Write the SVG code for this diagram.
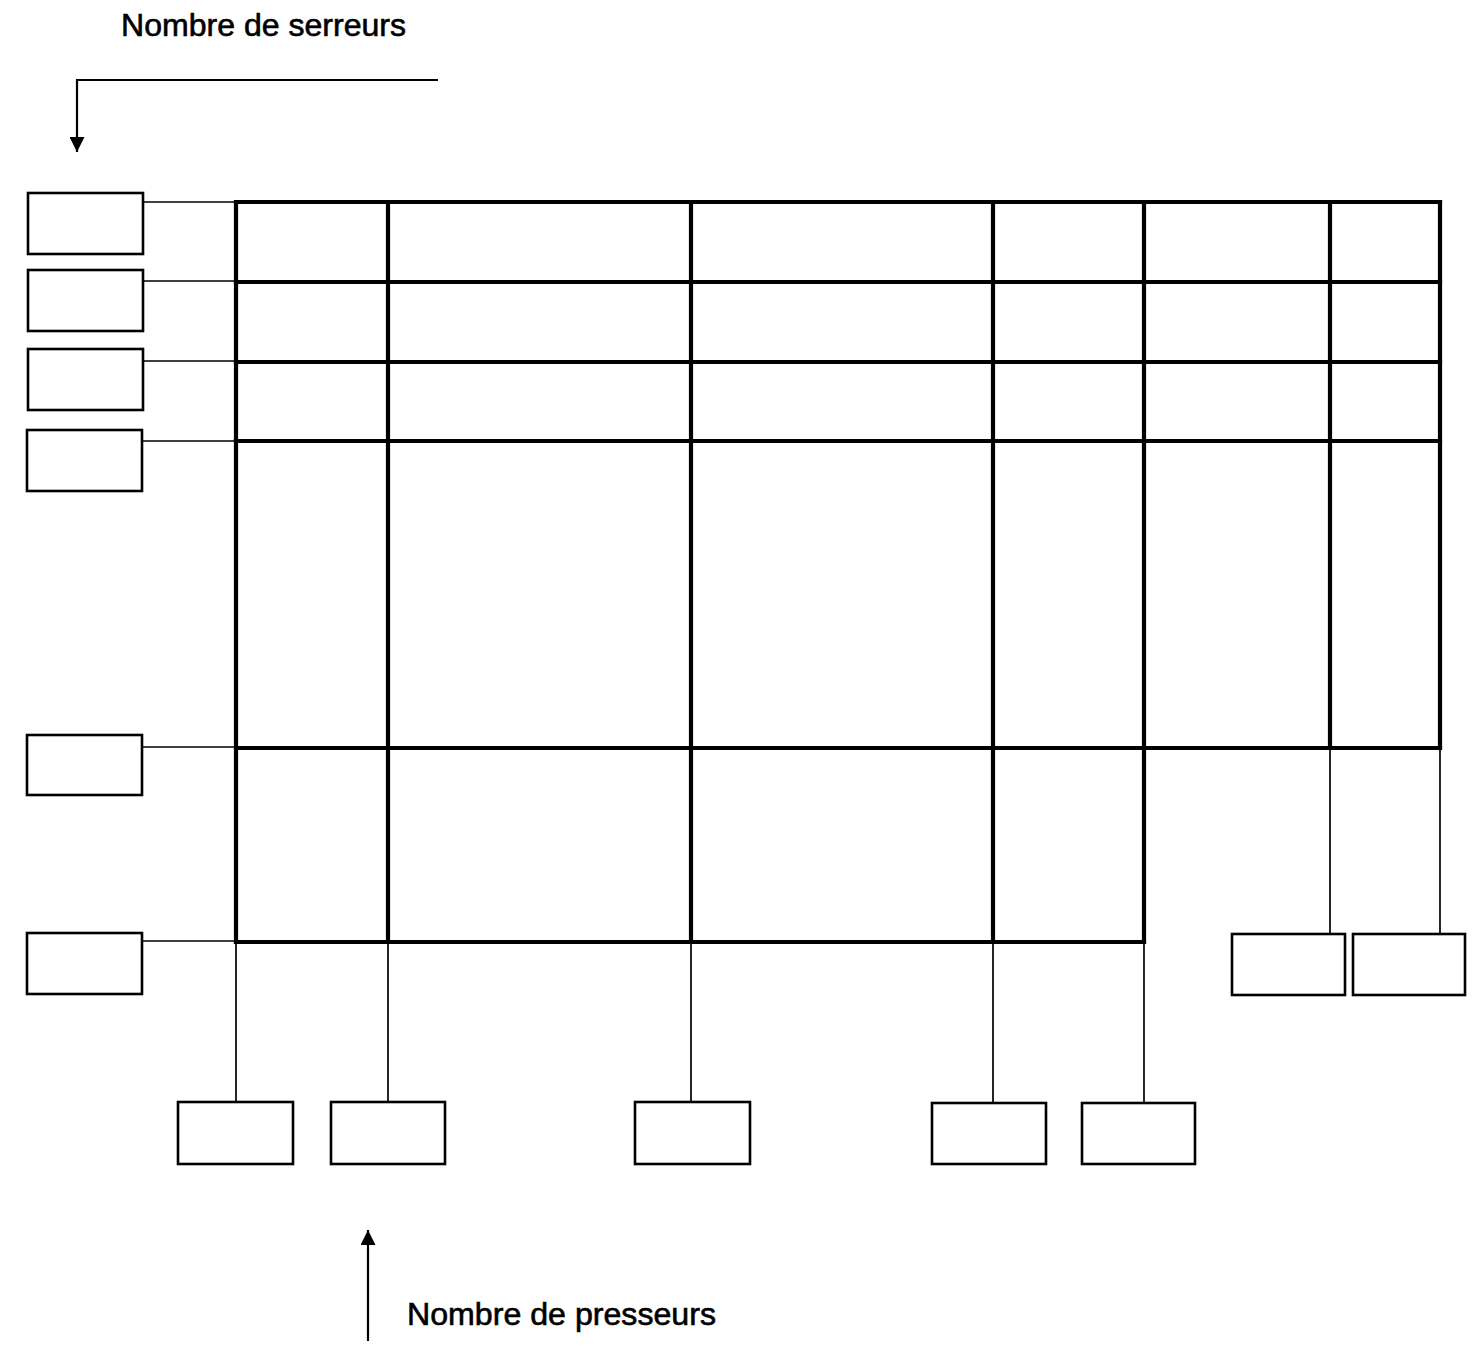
<svg xmlns="http://www.w3.org/2000/svg" width="1472" height="1349" viewBox="0 0 1472 1349">
<style>
.box{fill:#fff;stroke:#000;stroke-width:2.6}
.grid{fill:none;stroke:#000;stroke-width:4.2;stroke-linecap:square}
.conn{fill:none;stroke:#000;stroke-width:1.7}
.arrow{fill:none;stroke:#000;stroke-width:2.2}
.lbl{font-family:"Liberation Sans",Arial,sans-serif;font-size:31px;fill:#000;stroke:#000;stroke-width:0.6}
</style>
<defs>
<marker id="ah2" viewBox="0 0 10 10" refX="10" refY="5" markerWidth="18" markerHeight="15" markerUnits="userSpaceOnUse" orient="auto">
<path d="M0,0 L10,5 L0,10 z" fill="#000"/>
</marker>
</defs>
<rect width="1472" height="1349" fill="#fff"/>
<text class="lbl" x="121" y="36" textLength="285" lengthAdjust="spacingAndGlyphs">Nombre de serreurs</text>
<text class="lbl" x="407" y="1325" textLength="309" lengthAdjust="spacingAndGlyphs">Nombre de presseurs</text>
<g id="arrows">
<path class="arrow" d="M438,80 H77 V152" marker-end="url(#ah2)"/>
<path class="arrow" d="M368,1341 V1230" marker-end="url(#ah2)"/>
</g>
<g id="connectors">
<path class="conn" d="M143,202 H236 M143,281 H236 M143,361 H236 M143,441 H236 M143,747 H236 M143,941 H236"/>
<path class="conn" d="M236,942 V1102 M388,942 V1102 M691,942 V1102 M993,942 V1102 M1144,942 V1102"/>
<path class="conn" d="M1330,748 V934 M1440,748 V934"/>
</g>
<g id="grid">
<path class="grid" d="M236,202 H1440 M236,282 H1440 M236,362 H1440 M236,441 H1440 M236,748 H1440 M236,942 H1144"/>
<path class="grid" d="M236,202 V942 M388,202 V942 M691,202 V942 M993,202 V942 M1144,202 V942 M1330,202 V748 M1440,202 V748"/>
</g>
<g id="serreur1"><rect class="box" x="28" y="193" width="115" height="61"/></g>
<g id="serreur2"><rect class="box" x="28" y="270" width="115" height="61"/></g>
<g id="serreur3"><rect class="box" x="28" y="349" width="115" height="61"/></g>
<g id="serreur4"><rect class="box" x="27" y="430" width="115" height="61"/></g>
<g id="serreur5"><rect class="box" x="27" y="735" width="115" height="60"/></g>
<g id="serreur6"><rect class="box" x="27" y="933" width="115" height="61"/></g>
<g id="presseur1"><rect class="box" x="178" y="1102" width="115" height="62"/></g>
<g id="presseur2"><rect class="box" x="331" y="1102" width="114" height="62"/></g>
<g id="presseur3"><rect class="box" x="635" y="1102" width="115" height="62"/></g>
<g id="presseur4"><rect class="box" x="932" y="1103" width="114" height="61"/></g>
<g id="presseur5"><rect class="box" x="1082" y="1103" width="113" height="61"/></g>
<g id="presseur6"><rect class="box" x="1232" y="934" width="113" height="61"/></g>
<g id="presseur7"><rect class="box" x="1353" y="934" width="112" height="61"/></g>
</svg>
